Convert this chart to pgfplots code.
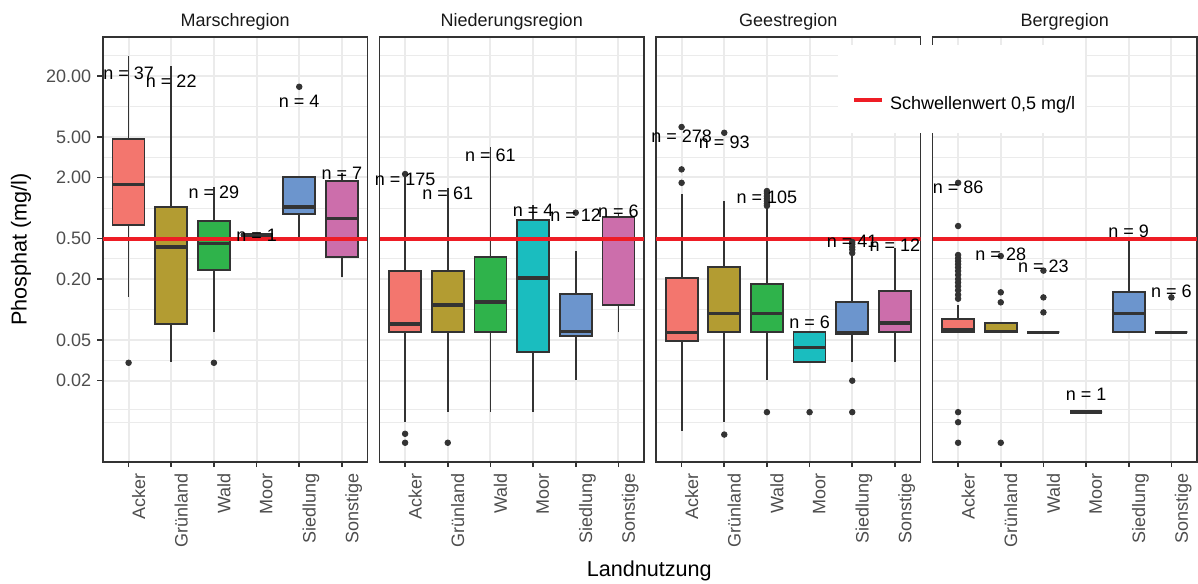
\documentclass[border=0pt]{standalone}
\usepackage{fontspec}
\setmainfont{Liberation Sans}
\usepackage{pgfplots}
\pgfplotsset{compat=1.18}
\definecolor{cAcker}{HTML}{F3766E}
\definecolor{cGruen}{HTML}{B39C32}
\definecolor{cWald}{HTML}{2FB34B}
\definecolor{cMoor}{HTML}{1ABDBF}
\definecolor{cSied}{HTML}{6C95CD}
\definecolor{cSonst}{HTML}{CC6EAB}
\definecolor{dark}{HTML}{333333}
\definecolor{gridc}{HTML}{EBEBEB}
\definecolor{tickc}{HTML}{4D4D4D}
\definecolor{thr}{HTML}{EE1D25}
\newcommand{\fs}{\fontsize{9}{10.8}\selectfont}
% box: #1 pos, #2 left, #3 right, #4 lower whisker, #5 Q1, #6 median, #7 Q3, #8 upper whisker, #9 fill
\newcommand{\bx}[9]{%
  \addplot[forget plot, dark, line width=0.9pt] coordinates {(#1,#4) (#1,#5)};
  \addplot[forget plot, dark, line width=0.9pt] coordinates {(#1,#7) (#1,#8)};
  \addplot[forget plot, fill=#9, draw=dark, line width=0.9pt] coordinates {(#2,#5) (#3,#5) (#3,#7) (#2,#7)} -- cycle;
  \addplot[forget plot, dark, line width=1.8pt] coordinates {(#2,#6) (#3,#6)};
}
\pgfplotsset{
  facet/.style={
    scale only axis, width=132.25pt, height=212.35pt,
    xmin=0.4, xmax=6.6,
    xtick={1,2,3,4,5,6},
    xticklabels={Acker,Grünland,Wald,Moor,Siedlung,Sonstige},
    ytick={0.02,0.05,0.2,0.5,2,5,20},
    minor ytick={0.0078,0.0105,0.0316,0.1,0.316,1,3.16,10,31.6},
    xmajorgrids, ymajorgrids, yminorgrids,
    major grid style={gridc, line width=1pt},
    minor grid style={gridc, line width=0.5pt},
    axis line style={dark, line width=0.8pt},
    tick align=outside, xtick pos=left, ytick pos=left,
    major tick length=2.75pt, minor tick length=0pt,
    tick style={dark, line width=0.8pt},
    xticklabel style={font=\fs, text=tickc, inner sep=0pt, xshift=1.5pt, yshift=-3pt, rotate=90, anchor=north east},
    yticklabel style={font=\fs, text=tickc, inner sep=0pt, anchor=east, xshift=-3pt},
    title style={font=\fs, text=black!90, at={(0.5,1)}, anchor=base, yshift=-0.6pt},
  },
  outl/.style={forget plot, only marks, mark=*, mark size=1.4pt, color=dark},
  nlab/.style={forget plot, draw=none, mark=none, nodes near coords, point meta=explicit symbolic,
    nodes near coords style={anchor=center, font=\fs, text=black, inner sep=0pt}},
  thrline/.style={thr, line width=2pt},
  thrleg/.style={legend image code/.code={\path (0pt,0pt); \draw[thr, line width=2pt] (2pt,2.1pt) -- (15.85pt,2.1pt);}},
}
\begin{document}
\begin{tikzpicture}
\path[use as bounding box] (0,0) rectangle (599pt,291.5pt);
% ---------------- Marschregion
\begin{axis}[facet, ymode=log, ymin=0.00319, ymax=48.2, at={(51.5pt,60.65pt)}, anchor=south west, title=Marschregion,
  yticklabels={0.02,0.05,0.20,0.50,2.00,5.00,20.00},
  ylabel={Phosphat (mg/l)}, ylabel style={font=\fontsize{10.8}{13}\selectfont, at={(axis description cs:-0.31,0.5)}, anchor=center}]
\bx{1}{0.625}{1.375}{0.134}{0.676}{1.71}{4.74}{31.3}{cAcker}
\bx{2}{1.625}{2.375}{0.0306}{0.0718}{0.416}{1.03}{25.0}{cGruen}
\bx{3}{2.625}{3.375}{0.0598}{0.244}{0.446}{0.745}{1.62}{cWald}
\bx{4}{3.625}{4.375}{0.543}{0.543}{0.543}{0.543}{0.543}{cMoor}
\bx{5}{4.625}{5.375}{0.5}{0.879}{1.02}{2.02}{2.02}{cSied}
\bx{6}{5.625}{6.375}{0.211}{0.332}{0.79}{1.84}{2.2}{cSonst}
\addplot[outl] coordinates {(1,0.030) (3,0.030) (5,15.6)};
\addplot[forget plot, thrline] coordinates {(0.4,0.5) (6.6,0.5)};
\addplot[nlab] coordinates {(1,21.2)[n = 37] (2,17.5)[n = 22] (3,1.43)[n = 29] (4,0.534)[n = 1] (5,11.1)[n = 4] (6,2.20)[n = 7]};
\end{axis}
% ---------------- Niederungsregion
\begin{axis}[facet, ymode=log, ymin=0.00319, ymax=48.2, at={(189.75pt,60.65pt)}, anchor=south west, title=Niederungsregion,
  yticklabels={}, ytick style={draw=none}]
\bx{1}{0.625}{1.375}{0.0078}{0.0598}{0.0718}{0.2416}{2.05}{cAcker}
\bx{2}{1.625}{2.375}{0.0099}{0.0598}{0.111}{0.2416}{1.57}{cGruen}
\bx{3}{2.625}{3.375}{0.0099}{0.0598}{0.119}{0.332}{4.01}{cWald}
\bx{4}{3.625}{4.375}{0.0099}{0.038}{0.2036}{0.762}{1.07}{cMoor}
\bx{5}{4.625}{5.375}{0.0201}{0.055}{0.0607}{0.1426}{0.38}{cSied}
\bx{6}{5.625}{6.375}{0.0598}{0.111}{0.5}{0.82}{0.90}{cSonst}
\addplot[outl] coordinates {(1,2.16) (1,0.0060) (1,0.0049) (2,0.0049) (5,0.90)};
\addplot[forget plot, thrline] coordinates {(0.4,0.5) (6.6,0.5)};
\addplot[nlab] coordinates {(1,1.92)[n = 175] (2,1.40)[n = 61] (3,3.32)[n = 61] (4,0.956)[n = 4] (5,0.854)[n = 12] (6,0.935)[n = 6]};
\end{axis}
% ---------------- Geestregion
\begin{axis}[facet, ymode=log, ymin=0.00319, ymax=48.2, at={(328pt,60.65pt)}, anchor=south west, title=Geestregion,
  yticklabels={}, ytick style={draw=none}]
\bx{1}{0.625}{1.375}{0.0064}{0.0495}{0.0598}{0.2036}{1.36}{cAcker}
\bx{2}{1.625}{2.375}{0.0078}{0.0598}{0.092}{0.261}{1.17}{cGruen}
\bx{3}{2.625}{3.375}{0.0201}{0.0598}{0.092}{0.179}{0.97}{cWald}
\bx{4}{3.625}{4.375}{0.0304}{0.0304}{0.0426}{0.0598}{0.0598}{cMoor}
\bx{5}{4.625}{5.375}{0.0304}{0.058}{0.0598}{0.118}{0.34}{cSied}
\bx{6}{5.625}{6.375}{0.0304}{0.0598}{0.0744}{0.153}{0.40}{cSonst}
\addplot[outl] coordinates {(1,6.27) (1,2.40) (1,1.77) (2,5.5) (2,0.0059) (3,1.47) (3,1.40) (3,1.31) (3,1.24) (3,1.17) (3,1.10) (3,1.05) (3,0.0098) (4,0.0098) (5,0.463) (5,0.44) (5,0.413) (5,0.39) (5,0.361) (5,0.020) (5,0.0098)};
\addplot[forget plot, thrline] coordinates {(0.4,0.5) (6.6,0.5)};
\addplot[nlab] coordinates {(1,5.03)[n = 278] (2,4.43)[n = 93] (3,1.275)[n = 105] (4,0.0751)[n = 6] (5,0.466)[n = 41] (6,0.426)[n = 12]};
\end{axis}
% ---------------- Bergregion
\begin{axis}[facet, ymode=log, ymin=0.00319, ymax=48.2, at={(466.25pt,60.65pt)}, anchor=south west, title=Bergregion,
  yticklabels={}, ytick style={draw=none},
  legend style={at={(-0.3573,0.9812)}, anchor=north west, fill=white, draw=none, font=\fs,
    inner xsep=5pt, inner ysep=10.2pt, row sep=0pt, column sep=3pt, nodes={inner sep=0pt}},
  legend cell align=left]
\bx{1}{0.625}{1.375}{0.0598}{0.0598}{0.063}{0.081}{0.11}{cAcker}
\bx{2}{1.625}{2.375}{0.0598}{0.0598}{0.0607}{0.0734}{0.0734}{cGruen}
\bx{3}{2.625}{3.375}{0.0598}{0.0598}{0.0598}{0.0598}{0.0598}{cWald}
\bx{4}{3.625}{4.375}{0.0098}{0.0098}{0.0098}{0.0098}{0.0098}{cMoor}
\bx{5}{4.625}{5.375}{0.0598}{0.0598}{0.092}{0.148}{0.496}{cSied}
\bx{6}{5.625}{6.375}{0.0598}{0.0598}{0.0598}{0.0598}{0.0598}{cSonst}
\addplot[outl] coordinates {(1,1.77) (1,0.665) (1,0.345) (1,0.32) (1,0.30) (1,0.28) (1,0.26) (1,0.24) (1,0.22) (1,0.20) (1,0.185) (1,0.17) (1,0.155) (1,0.14) (1,0.128) (1,0.0098) (1,0.0078) (1,0.0049) (2,0.337) (2,0.148) (2,0.118) (2,0.0049) (3,0.242) (3,0.132) (3,0.094) (6,0.132)};
\addlegendimage{empty legend}
\addlegendentry{\rule{0pt}{13.75pt}}
\addplot[thrline, thrleg] coordinates {(0.4,0.5) (6.6,0.5)};
\addlegendentry{Schwellenwert 0,5 mg/l}
\addplot[nlab] coordinates {(1,1.60)[n = 86] (2,0.353)[n = 28] (3,0.265)[n = 23] (4,0.01468)[n = 1] (5,0.594)[n = 9] (6,0.153)[n = 6]};
\end{axis}
\node[font=\fontsize{10.8}{13}\selectfont, anchor=base] at (324.6pt,3.15pt) {Landnutzung};
\end{tikzpicture}
\end{document}
